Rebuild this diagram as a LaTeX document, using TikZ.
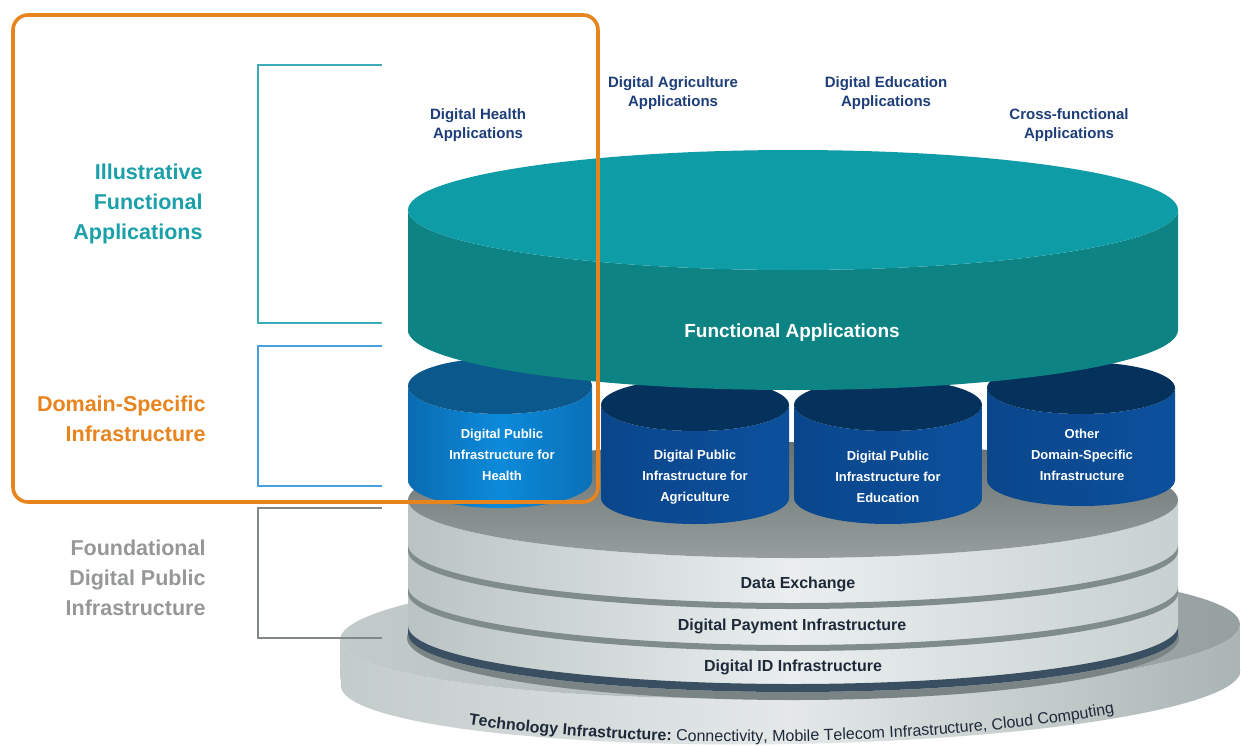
\documentclass[tikz,border=0pt]{standalone}
\usepackage{fontspec}
\setmainfont{Liberation Sans}
\usetikzlibrary{decorations.text}
\definecolor{tealTop}{RGB}{14,157,166}
\definecolor{tealSide}{RGB}{13,131,132}
\definecolor{hlthTop}{RGB}{11,88,140}
\definecolor{hlthL}{RGB}{10,108,178}
\definecolor{hlthM}{RGB}{12,138,218}
\definecolor{hlthR}{RGB}{10,112,184}
\definecolor{navyTop}{RGB}{5,50,92}
\definecolor{navySideL}{RGB}{10,70,140}
\definecolor{navySideR}{RGB}{12,80,156}
\definecolor{stkL}{RGB}{186,195,195}
\definecolor{stkM}{RGB}{234,238,238}
\definecolor{stkR}{RGB}{200,208,208}
\definecolor{stkTopT}{RGB}{104,112,112}
\definecolor{stkTopB}{RGB}{150,158,158}
\definecolor{stripe}{RGB}{128,140,140}
\definecolor{darkstripe}{RGB}{58,80,98}
\definecolor{baseTopL}{RGB}{196,203,203}
\definecolor{baseTopR}{RGB}{150,160,160}
\definecolor{baseSideL}{RGB}{196,203,203}
\definecolor{baseSideM}{RGB}{228,232,232}
\definecolor{baseSideR}{RGB}{170,180,180}
\definecolor{baseShadow}{RGB}{122,132,132}
\definecolor{lblnavy}{RGB}{30,62,120}
\definecolor{lblteal}{RGB}{26,160,168}
\definecolor{lblorange}{RGB}{232,132,30}
\definecolor{lblgrey}{RGB}{150,152,152}
\definecolor{brteal}{RGB}{60,172,182}
\definecolor{brblue}{RGB}{70,160,225}
\definecolor{brgrey}{RGB}{130,136,136}
\definecolor{stktext}{RGB}{30,42,58}
\newcommand\mycyl[7]{%
  \shade[#6] (#1-#4,#2) -- (#1-#4,#3)
    arc[start angle=180,end angle=0,x radius=#4,y radius=#5]
    -- (#1+#4,#2)
    arc[start angle=0,end angle=180,x radius=#4,y radius=#5] -- cycle;
  \fill[#7] (#1,#2) ellipse[x radius=#4,y radius=#5];
}
\tikzset{
  toplbl/.style={text=lblnavy, font=\fontsize{15}{19}\selectfont\bfseries, align=center},
  cyllbl/.style={text=white, font=\fontsize{13}{21}\selectfont\bfseries, align=center},
  stklbl/.style={text=stktext, font=\fontsize{16}{18}\selectfont\bfseries},
  sidelbl/.style={font=\fontsize{21.5}{30}\selectfont\bfseries, align=right, anchor=east},
  bracket/.style={line width=1.4pt},
}
\begin{document}
\begin{tikzpicture}[x=1pt,y=-1pt]
\useasboundingbox (0,0) rectangle (1241,745);
\fill[white] (0,0) rectangle (1241,745);

% ---- base disc (technology infrastructure)
\begin{scope}[rotate around={1:(790,632)}]
  \shade[left color=baseSideL, right color=baseSideR, middle color=baseSideM]
    (340,632) -- (340,678) arc[start angle=180,end angle=0,x radius=450,y radius=66]
    -- (1240,632) arc[start angle=0,end angle=180,x radius=450,y radius=66] -- cycle;
  \shade[left color=baseTopL, right color=baseTopR] (790,632) ellipse[x radius=450,y radius=66];
  \path[decorate, decoration={text along path, text align=center,
      text={|\fontsize{16}{19}\selectfont\bfseries\color{stktext}|Technology Infrastructure:|\fontsize{16}{19}\selectfont\mdseries\color{stktext}| Connectivity, Mobile Telecom Infrastructure, Cloud Computing}}]
    (367.1,692.6) arc[start angle=160,end angle=20,x radius=450,y radius=74];
\end{scope}
\fill[baseShadow] (793,638) ellipse[x radius=386,y radius=62];

% ---- foundational stack
\shade[left color=stkL, right color=stkR, middle color=stkM]
  (408,500) -- (408,634) arc[start angle=180,end angle=0,x radius=385,y radius=58]
  -- (1178,500) arc[start angle=0,end angle=180,x radius=385,y radius=58] -- cycle;
\fill[stripe] (408,545) arc[start angle=180,end angle=0,x radius=385,y radius=58]
  -- (1178,551) arc[start angle=0,end angle=180,x radius=385,y radius=58] -- cycle;
\fill[stripe] (408,587) arc[start angle=180,end angle=0,x radius=385,y radius=58]
  -- (1178,593) arc[start angle=0,end angle=180,x radius=385,y radius=58] -- cycle;
\fill[darkstripe] (408,626) arc[start angle=180,end angle=0,x radius=385,y radius=58]
  -- (1178,634) arc[start angle=0,end angle=180,x radius=385,y radius=58] -- cycle;
\shade[top color=stkTopT, bottom color=stkTopB] (793,500) ellipse[x radius=385,y radius=58];

% ---- domain-specific cylinders
\mycyl{500}{386}{480}{92}{28}{left color=hlthL, right color=hlthR, middle color=hlthM}{hlthTop}
\mycyl{1081}{388}{480}{94}{26}{left color=navySideL, right color=navySideR}{navyTop}
\mycyl{695}{405}{498}{94}{26}{left color=navySideL, right color=navySideR}{navyTop}
\mycyl{888}{405}{498}{94}{26}{left color=navySideL, right color=navySideR}{navyTop}

% ---- functional applications disc
\mycyl{793}{210}{330}{385}{60}{left color=tealSide, right color=tealSide}{tealTop}

% ---- labels on shapes
\node[text=white, font=\fontsize{19}{22}\selectfont\bfseries] (fa) at (792,333) {Functional Applications};
\node[cyllbl] (dh) at (502,455) {Digital Public\\Infrastructure for\\Health};
\node[cyllbl] (da) at (695,477) {Digital Public\\Infrastructure for\\Agriculture};
\node[cyllbl] (de) at (888,477) {Digital Public\\Infrastructure for\\Education};
\node[cyllbl] (do) at (1082,455) {Other\\Domain-Specific\\Infrastructure};
\node[stklbl] (dx) at (798,584) {Data Exchange};
\node[stklbl] (dp) at (792,626) {Digital Payment Infrastructure};
\node[stklbl] (di) at (793,667) {Digital ID Infrastructure};

% ---- application labels on top
\node[toplbl] (ah) at (478,125) {Digital Health\\Applications};
\node[toplbl] (aa) at (673,93) {Digital Agriculture\\Applications};
\node[toplbl] (ae) at (886,93) {Digital Education\\Applications};
\node[toplbl] (ac) at (1069,125) {Cross-functional\\Applications};

% ---- brackets
\draw[bracket, brteal] (382,65) -- (258,65) -- (258,323) -- (382,323);
\draw[bracket, brblue] (382,346) -- (258,346) -- (258,486) -- (382,486);
\draw[bracket, brgrey] (382,508) -- (258,508) -- (258,638) -- (382,638);

% ---- side labels
\node[sidelbl, text=lblteal] (sf) at (206,204) {Illustrative\\Functional\\Applications};
\node[sidelbl, text=lblorange] (sd) at (209,419) {Domain-Specific\\Infrastructure};
\node[sidelbl, text=lblgrey] (sg) at (209,578) {Foundational\\Digital Public\\Infrastructure};

% ---- highlight box
\draw[lblorange, line width=3.6pt, rounded corners=15pt] (13,15) rectangle (598,502);
\end{tikzpicture}
\end{document}
